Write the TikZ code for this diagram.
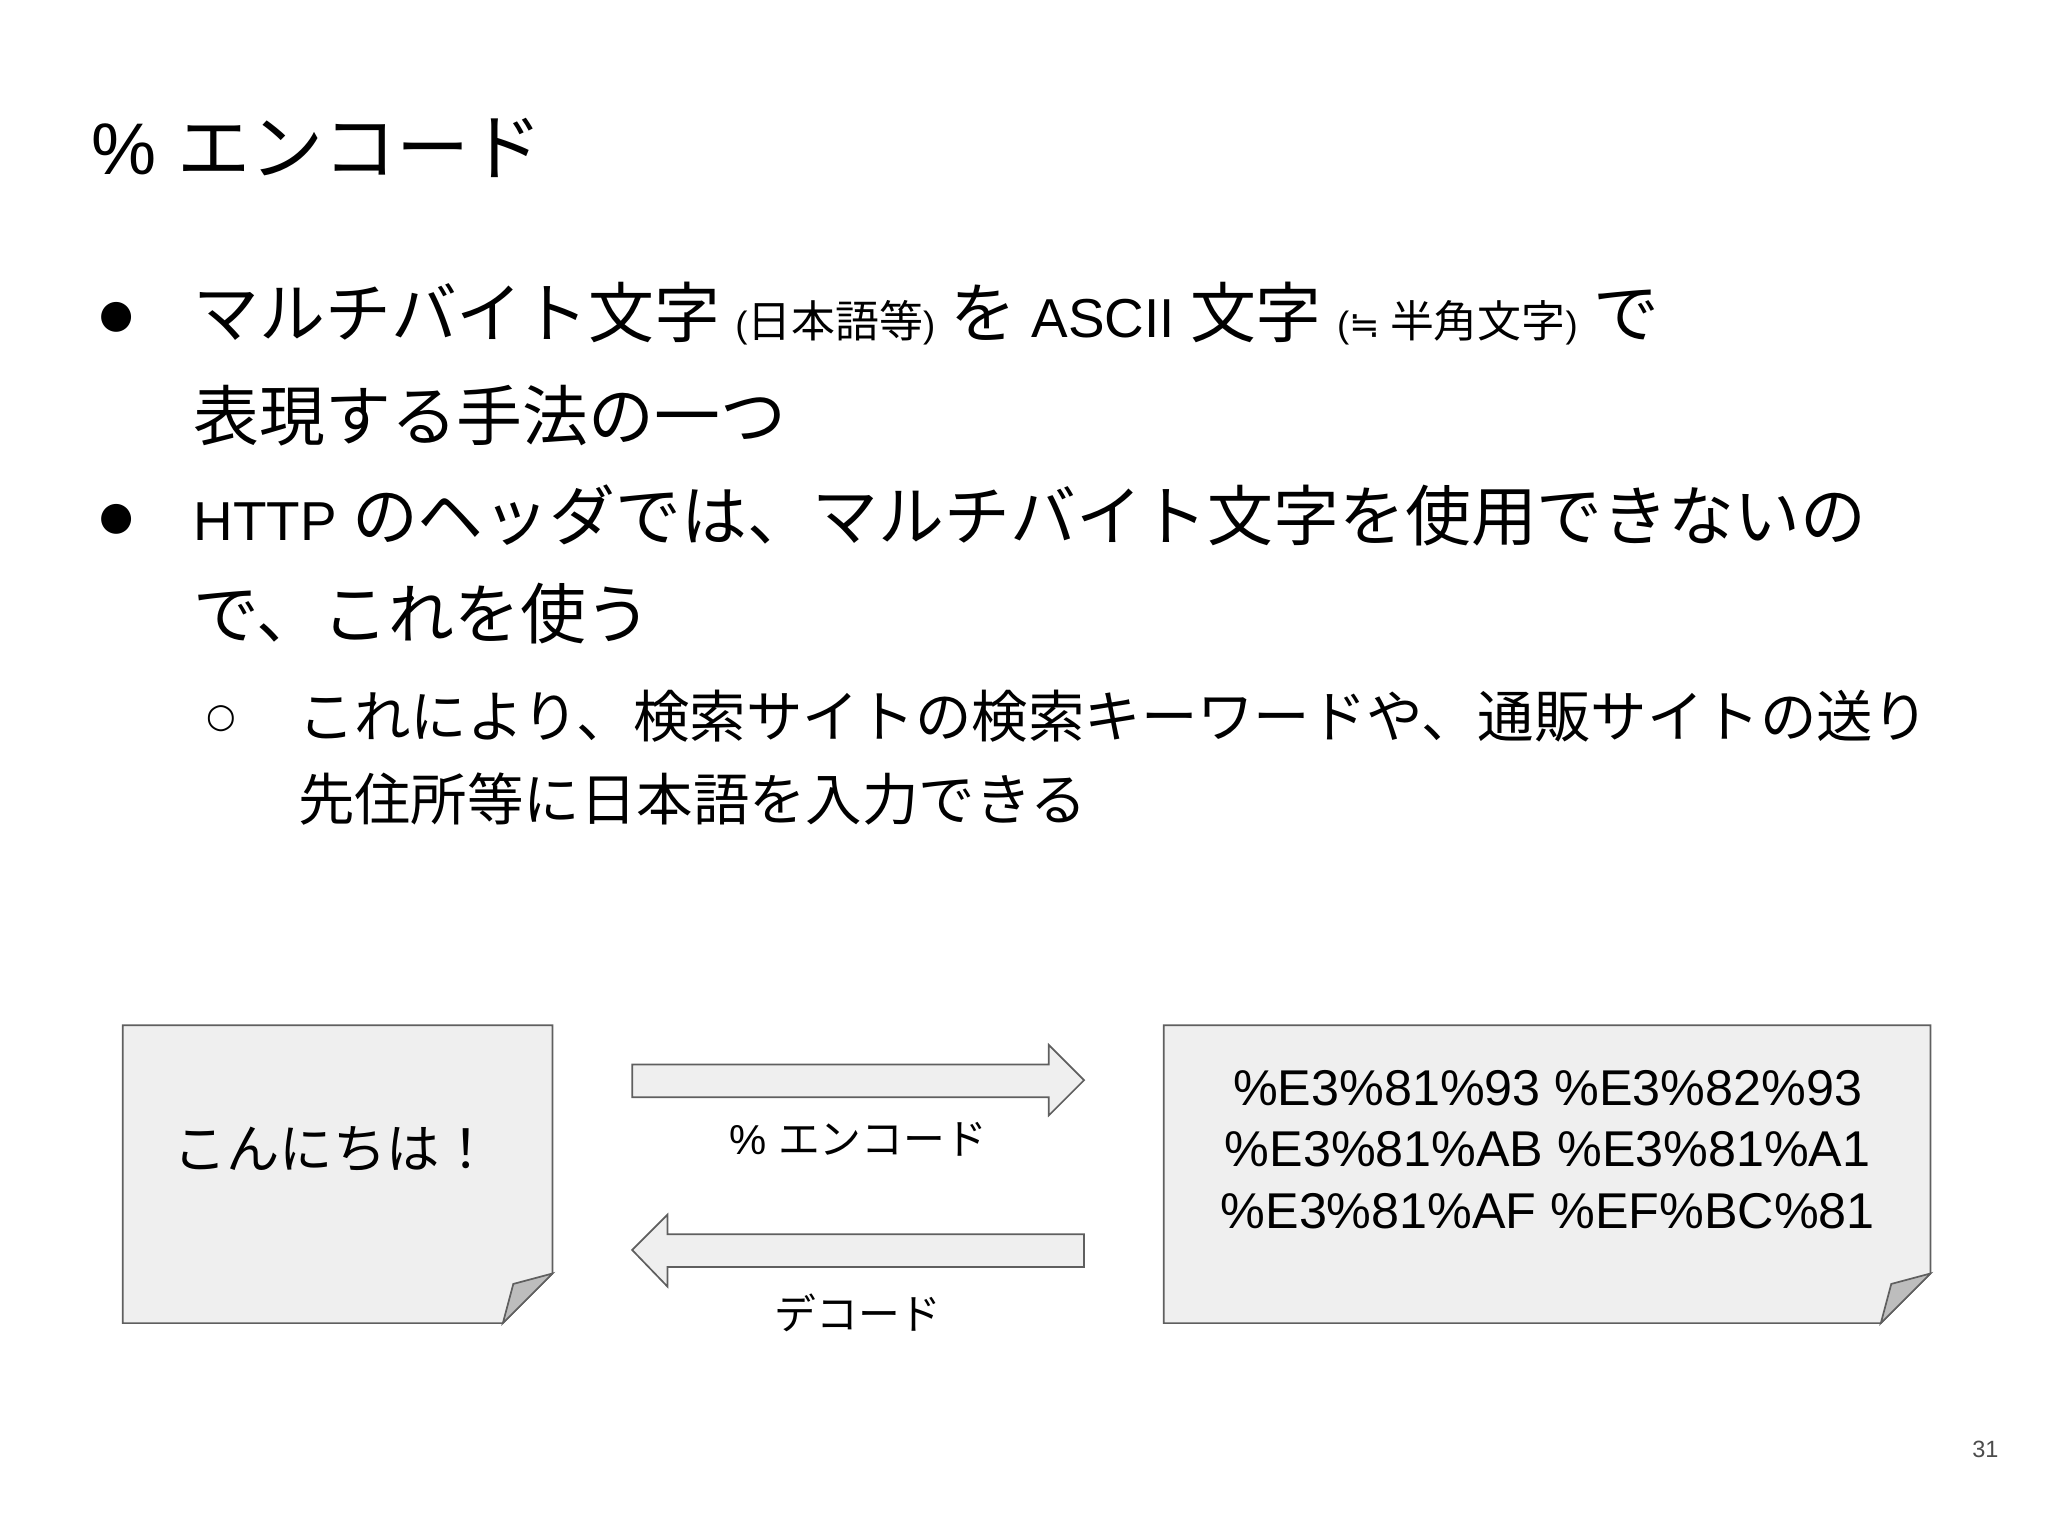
\documentclass[tikz,border=0pt]{standalone}
\usepackage{fontspec}
\setmainfont{Liberation Sans}
\newfontfamily\jp[Scale=1.2]{Noto Sans CJK JP}
\newfontfamily\jpt{Noto Sans CJK JP}
\newfontfamily\dv{DejaVu Sans}
\definecolor{boxfill}{HTML}{EFEFEF}
\definecolor{boxline}{HTML}{5F5F5F}
\definecolor{foldfill}{HTML}{BDBDBD}
\begin{document}
\begin{tikzpicture}[x=1pt,y=-1pt,
  txt/.style={anchor=west,inner sep=0pt},
  big/.style={txt,font=\fontsize{42}{48}\selectfont},
  mid/.style={txt,font=\fontsize{36}{44}\selectfont},
  boxshape/.style={draw=boxline,line width=1.3pt,fill=boxfill,line join=miter}]
\useasboundingbox (0,0) rectangle (1568,1176);
\node[txt,font=\fontsize{56}{60}\selectfont] (title) at (70,113) {\% {\jpt エンコード}};
% bullets
\node[txt,font=\dv\fontsize{30}{30}\selectfont] (b1) at (76,243) {●};
\node[big] (l1) at (148,240) {{\jp マルチバイト文字} {\fontsize{28}{30}\selectfont({\jp 日本語等})} {\jp を} ASCII {\jp 文字} {\fontsize{28}{30}\selectfont({\dv ≒} {\jp 半角文字})} {\jp で}};
\node[big] (l2) at (148,318) {\jp 表現する手法の一つ};
\node[txt,font=\dv\fontsize{30}{30}\selectfont] (b2) at (76,398) {●};
\node[big] (l3) at (148,395) {HTTP {\jp のヘッダでは、マルチバイト文字を使用できないの}};
\node[big] (l4) at (148,470) {\jp で、これを使う};
\node[txt,font=\dv\fontsize{26}{26}\selectfont] (b3) at (158,550) {○};
\node[mid] (l5) at (228,548) {\jp これにより、検索サイトの検索キーワードや、通販サイトの送り};
\node[mid] (l6) at (228,612) {\jp 先住所等に日本語を入力できる};
% left note
\draw[boxshape] (94,785) -- (423,785) -- (423,975) -- (385,1013) -- (94,1013) -- cycle;
\draw[boxshape,fill=foldfill] (423,975) -- (385,1013) -- (393,983) -- cycle;
\node[font=\fontsize{34}{44}\selectfont] (src) at (255,880) {\jp こんにちは！};
% right note
\draw[boxshape] (891,785) -- (1478,785) -- (1478,975) -- (1440,1013) -- (891,1013) -- cycle;
\draw[boxshape,fill=foldfill] (1478,975) -- (1440,1013) -- (1448,983) -- cycle;
\node[font=\fontsize{38.5}{47}\selectfont,align=center] (enc) at (1185,880) {\%E3\%81\%93 \%E3\%82\%93\\\%E3\%81\%AB \%E3\%81\%A1\\\%E3\%81\%AF \%EF\%BC\%81};
% arrows
\draw[boxshape] (484,815) -- (803,815) -- (803,800) -- (830,827) -- (803,854) -- (803,840) -- (484,840) -- cycle;
\draw[boxshape] (830,945) -- (511,945) -- (511,930) -- (484,957) -- (511,985) -- (511,970) -- (830,970) -- cycle;
\node[font=\fontsize{32}{36}\selectfont] (lenc) at (657,872) {\% {\jpt エンコード}};
\node[font=\fontsize{32}{36}\selectfont] (ldec) at (657,1005) {\jpt デコード};
\node[font=\fontsize{18}{20}\selectfont,text=black!70] (pg) at (1520,1110) {31};
\end{tikzpicture}
\end{document}
